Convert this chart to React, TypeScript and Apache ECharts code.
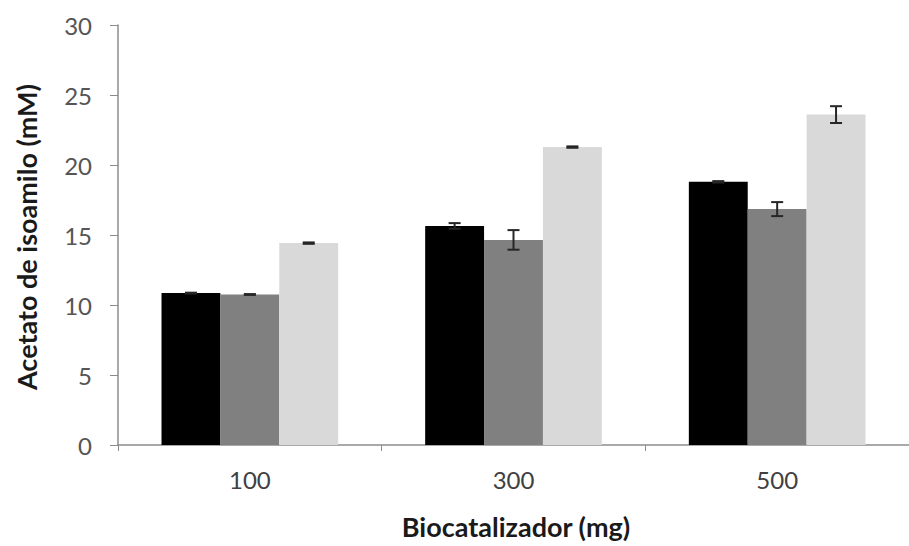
import React, { useEffect, useRef } from "react";
import * as echarts from "echarts";

const categories = ["100", "300", "500"];
const seriesA = [10.85, 15.65, 18.8];
const seriesB = [10.75, 14.65, 16.85];
const seriesC = [14.42, 21.28, 23.6];
const errA = [0.03, 0.2, 0.05];
const errB = [0.03, 0.7, 0.5];
const errC = [0.05, 0.05, 0.6];
const colors = ["#000000", "#808080", "#d9d9d9"];
const yTicks = [0, 5, 10, 15, 20, 25, 30];

const FONT = "Lato, 'Open Sans', sans-serif";

export default function App() {
  const ref = useRef<HTMLDivElement>(null);
  useEffect(() => {
    if (!ref.current) return;
    const chart = echarts.init(ref.current, undefined, { renderer: "svg" });
    const values = [seriesA, seriesB, seriesC];
    const errs = [errA, errB, errC];
    const errData: number[][] = [];
    values.forEach((vals, s) => {
      vals.forEach((v, i) => errData.push([i, v, errs[s][i], s]));
    });
    const gapFrac = 0.33;
    chart.setOption({
      animation: false,
      backgroundColor: "#ffffff",
      grid: { left: 118, top: 25, width: 801, height: 420, containLabel: false },
      xAxis: {
        type: "category",
        data: categories,
        axisLine: { lineStyle: { color: "#8c8c8c", width: 1.5 } },
        axisTick: { show: true, length: 6, inside: false, lineStyle: { color: "#8c8c8c" } },
        axisLabel: { color: "#404040", fontSize: 24, fontFamily: FONT, margin: 22 },
        splitLine: { show: false },
      },
      yAxis: {
        type: "value",
        min: 0,
        max: 30,
        interval: 5,
        axisLine: { show: true, lineStyle: { color: "#8c8c8c", width: 1.5 } },
        axisTick: { show: true, length: 8, lineStyle: { color: "#8c8c8c" } },
        axisLabel: {
          color: "#555555",
          fontSize: 24,
          fontFamily: FONT,
          margin: 26,
          formatter: (v: number) => (yTicks.includes(v) ? String(v) : ""),
        },
        splitLine: { show: false },
      },
      graphic: [
        {
          type: "text",
          x: 516,
          y: 526,
          style: {
            text: "Biocatalizador (mg)",
            font: `bold 27px ${FONT}`,
            fill: "#1a1a1a",
            align: "center",
            verticalAlign: "middle",
          },
        },
        {
          type: "text",
          x: 26,
          y: 237,
          rotation: Math.PI / 2,
          style: {
            text: "Acetato de isoamilo (mM)",
            font: `bold 27px ${FONT}`,
            fill: "#1a1a1a",
            align: "center",
            verticalAlign: "middle",
          },
        },
      ],
      series: [
        ...values.map((vals, s) => ({
          type: "bar",
          data: vals,
          barGap: "0%",
          barCategoryGap: "33%",
          itemStyle: { color: colors[s] },
        })),
        {
          type: "custom",
          data: errData,
          z: 10,
          renderItem: (params: any, api: any) => {
            const cat = api.value(0);
            const v = api.value(1);
            const e = api.value(2);
            const s = api.value(3);
            const band = api.size([1, 0])[0];
            const bw = (band * (1 - gapFrac)) / 3;
            const center = api.coord([cat, v]);
            const x = center[0] + (s - 1) * bw;
            const yTop = api.coord([cat, v + e])[1];
            const yBot = api.coord([cat, v - e])[1];
            const cap = 6;
            const st = { stroke: "#262626", lineWidth: 2 };
            return {
              type: "group",
              children: [
                { type: "line", shape: { x1: x, y1: yTop, x2: x, y2: yBot }, style: st },
                { type: "line", shape: { x1: x - cap, y1: yTop, x2: x + cap, y2: yTop }, style: st },
                { type: "line", shape: { x1: x - cap, y1: yBot, x2: x + cap, y2: yBot }, style: st },
              ],
            };
          },
        },
      ],
    });
    return () => chart.dispose();
  }, []);
  return <div ref={ref} style={{ width: 909, height: 546, position: "absolute", left: 0, top: 0 }} />;
}
